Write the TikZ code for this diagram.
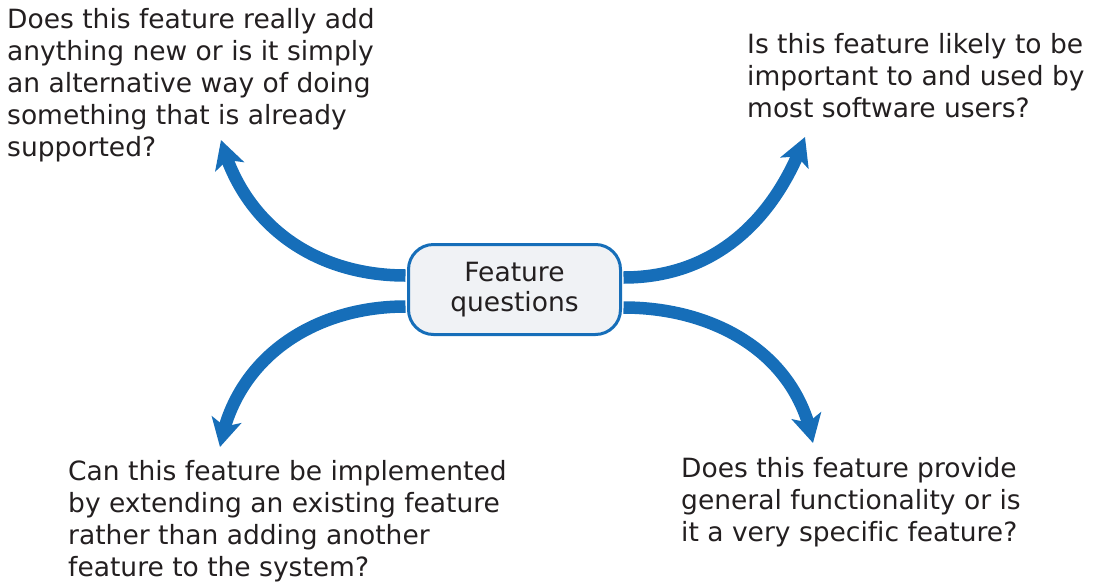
\documentclass[tikz,border=0pt]{standalone}
\usepackage{fontspec}
\setmainfont{DejaVu Sans}[Ligatures=NoCommon]
\usetikzlibrary{arrows.meta, bending}

\definecolor{flowblue}{RGB}{22,110,185}
\definecolor{boxfill}{RGB}{240,242,245}
\definecolor{inkgray}{RGB}{35,31,32}

\tikzset{
  question/.style={anchor=north west, align=left, inner sep=0pt, text=inkgray,
    font=\fontsize{26.5}{32}\selectfont},
  hub/.style={draw=flowblue, fill=boxfill, line width=3pt, rounded corners=25pt,
    minimum width=212pt, minimum height=90pt, align=center, text=inkgray,
    font=\fontsize{26.5}{30}\selectfont},
  flow/.style={draw=flowblue, line width=12.5pt,
    -{Stealth[length=28pt, width=30pt, inset=7pt, flex]}}
}

\begin{document}
\begin{tikzpicture}[x=1pt, y=-1pt]
			\useasboundingbox (0,0) rectangle (1106,587);

			% Caja central
			\node at (514.5,289.5) [hub] (fq) {Feature\\questions};

			% Preguntas
			\node at (7,8) [question] (qtl) {Does this feature really add\\anything new or is it simply\\an alternative way of doing\\something that is already\\supported?};
			\node at (747,33) [question] (qtr) {Is this feature likely to be\\important to and used by\\most software users?};
			\node at (68,460) [question] (qbl) {Can this feature be implemented\\by extending an existing feature\\rather than adding another\\feature to the system?};
			\node at (681,457) [question] (qbr) {Does this feature provide\\general functionality or is\\it a very specific feature?};

			% Puntas de flecha
			\coordinate (tl) at (221,140);
			\coordinate (tr) at (805,137);
			\coordinate (bl) at (220,447);
			\coordinate (br) at (813,443);

			% Flechas
			\draw[flow] ([xshift=-1.5pt, yshift=14pt]fq.west) to[out=180, in=-75] (tl);
			\draw[flow] ([xshift=1.5pt, yshift=12pt]fq.east) to[out=0, in=-110] (tr);
			\draw[flow] ([xshift=-1.5pt, yshift=-17pt]fq.west) to[out=180, in=80] (bl);
			\draw[flow] ([xshift=1.5pt, yshift=-18pt]fq.east) to[out=0, in=100] (br);
		\end{tikzpicture}
\end{document}
